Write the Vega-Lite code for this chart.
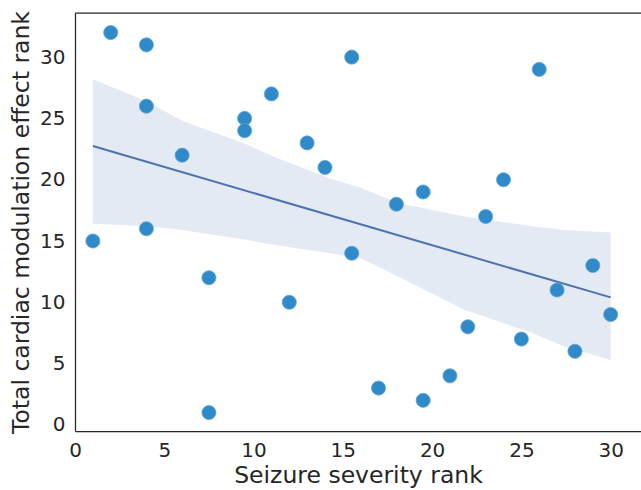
{
  "$schema": "https://vega.github.io/schema/vega-lite/v6.json",
  "width": 566,
  "height": 418,
  "autosize": {"type": "none"},
  "padding": {"left": 75, "top": 13, "right": 0, "bottom": 59},
  "background": "white",
  "config": {
    "view": {"stroke": null},
    "font": "DejaVu Sans",
    "axis": {
      "labelFont": "DejaVu Sans",
      "titleFont": "DejaVu Sans",
      "labelFontSize": 20,
      "titleFontSize": 23.5,
      "labelColor": "#262626",
      "titleColor": "#262626",
      "titleFontWeight": "normal",
      "labelFlush": false,
      "ticks": false,
      "grid": false,
      "domainColor": "#262626",
      "domainWidth": 1.25
    }
  },
  "datasets": {
    "pts": [
      {"sev": 1, "card": 15}, {"sev": 2, "card": 32}, {"sev": 4, "card": 31},
      {"sev": 4, "card": 26}, {"sev": 4, "card": 16}, {"sev": 6, "card": 22},
      {"sev": 7.5, "card": 12}, {"sev": 7.5, "card": 1}, {"sev": 9.5, "card": 25},
      {"sev": 9.5, "card": 24}, {"sev": 11, "card": 27}, {"sev": 12, "card": 10},
      {"sev": 13, "card": 23}, {"sev": 14, "card": 21}, {"sev": 15.5, "card": 30},
      {"sev": 15.5, "card": 14}, {"sev": 17, "card": 3}, {"sev": 18, "card": 18},
      {"sev": 19.5, "card": 19}, {"sev": 19.5, "card": 2}, {"sev": 21, "card": 4},
      {"sev": 22, "card": 8}, {"sev": 23, "card": 17}, {"sev": 24, "card": 20},
      {"sev": 25, "card": 7}, {"sev": 26, "card": 29}, {"sev": 27, "card": 11},
      {"sev": 28, "card": 6}, {"sev": 29, "card": 13}, {"sev": 30, "card": 9}
    ],
    "band": [
      {"sev": 1, "lo": 16.4, "hi": 28.2},
      {"sev": 4, "lo": 16.2, "hi": 26.4},
      {"sev": 6, "lo": 15.9, "hi": 24.8},
      {"sev": 9.6, "lo": 15.1, "hi": 22.9},
      {"sev": 11.1, "lo": 14.7, "hi": 21.9},
      {"sev": 14.3, "lo": 14.0, "hi": 20.1},
      {"sev": 16, "lo": 13.6, "hi": 19.35},
      {"sev": 18.1, "lo": 12.1, "hi": 18.1},
      {"sev": 21.8, "lo": 9.4, "hi": 17.0},
      {"sev": 25.6, "lo": 7.5, "hi": 16.2},
      {"sev": 27.4, "lo": 6.4, "hi": 15.9},
      {"sev": 30, "lo": 5.3, "hi": 15.7}
    ],
    "fit": [
      {"sev": 1, "card": 22.75},
      {"sev": 30, "card": 10.4}
    ]
  },
  "layer": [
    {
      "data": {"name": "band"},
      "mark": {"type": "area", "color": "#4c72b0", "opacity": 0.15},
      "encoding": {
        "x": {"field": "sev", "type": "quantitative", "scale": {"domain": [0, 31.7], "nice": false, "zero": false},
              "axis": {"title": "Seizure severity rank", "values": [0, 5, 10, 15, 20, 25, 30], "labelPadding": 9, "titlePadding": 3}},
        "y": {"field": "lo", "type": "quantitative", "scale": {"domain": [-0.5, 33.6], "nice": false, "zero": false},
              "axis": {"title": "Total cardiac modulation effect rank", "values": [0, 5, 10, 15, 20, 25, 30], "labelPadding": 10, "titlePadding": 6}},
        "y2": {"field": "hi"}
      }
    },
    {
      "data": {"name": "fit"},
      "mark": {"type": "line", "color": "#4c72b0", "strokeWidth": 2},
      "encoding": {
        "x": {"field": "sev", "type": "quantitative"},
        "y": {"field": "card", "type": "quantitative"}
      }
    },
    {
      "data": {"name": "pts"},
      "mark": {"type": "point", "filled": true, "size": 200, "color": "#2784c6", "opacity": 0.95, "stroke": "#5aa3d8", "strokeWidth": 0.8},
      "encoding": {
        "x": {"field": "sev", "type": "quantitative"},
        "y": {"field": "card", "type": "quantitative"}
      }
    },
    {
      "data": {"values": [{"a": 1}]},
      "mark": {"type": "rule", "color": "#262626", "strokeWidth": 1.25},
      "encoding": {
        "y": {"datum": 33.6, "type": "quantitative"}
      }
    }
  ]
}
